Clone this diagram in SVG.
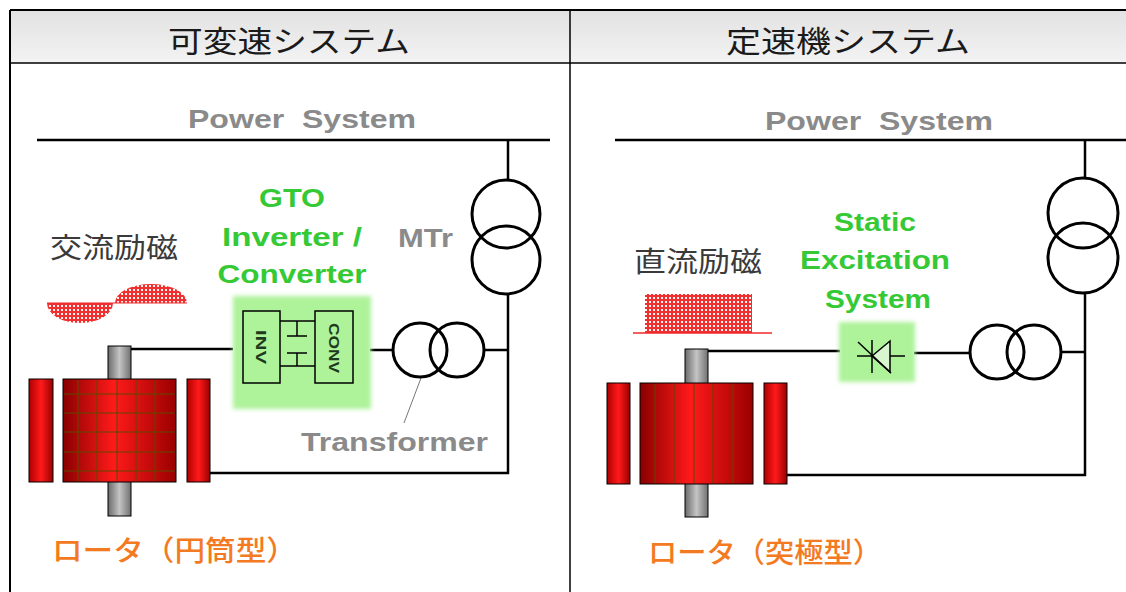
<svg xmlns="http://www.w3.org/2000/svg" width="1126" height="592" viewBox="0 0 1126 592">
  <defs>
    <linearGradient id="hdr" x1="0" y1="0" x2="0" y2="1">
      <stop offset="0" stop-color="#e2e2e2"/>
      <stop offset="1" stop-color="#f3f3f3"/>
    </linearGradient>
    <linearGradient id="body" x1="0" y1="0" x2="1" y2="0">
      <stop offset="0" stop-color="#8a0000"/>
      <stop offset="0.45" stop-color="#ff1a1a"/>
      <stop offset="1" stop-color="#9a0000"/>
    </linearGradient>
    <linearGradient id="bar" x1="0" y1="0" x2="1" y2="0">
      <stop offset="0" stop-color="#b00000"/>
      <stop offset="0.5" stop-color="#ff1a1a"/>
      <stop offset="1" stop-color="#9a0000"/>
    </linearGradient>
    <linearGradient id="shaft" x1="0" y1="0" x2="1" y2="0">
      <stop offset="0" stop-color="#6a6a6a"/>
      <stop offset="0.5" stop-color="#c4c4c4"/>
      <stop offset="1" stop-color="#707070"/>
    </linearGradient>
    <!-- red mesh with light holes -->
    <pattern id="hatch" width="4" height="4" patternUnits="userSpaceOnUse">
      <rect width="4" height="4" fill="#f03030"/>
      <rect x="1" y="1" width="2" height="2" fill="#fff4f0"/>
    </pattern>
    <filter id="soft" x="-10%" y="-10%" width="120%" height="120%">
      <feGaussianBlur stdDeviation="2"/>
    </filter>
  </defs>
  <style>
    .wire { fill: none; stroke: #000; stroke-width: 2.5; }
    .coil { fill: none; stroke: #000; stroke-width: 3; }
    .thin { fill: none; stroke: #000; stroke-width: 1.5; }
    .grid { stroke: #5a4a00; stroke-width: 1; }
    .edge { stroke: #000; stroke-width: 1; }
    .hdr { font-family: "Noto Sans CJK JP", sans-serif; font-size: 30px; fill: #1a1a1a; text-anchor: middle; }
    .gray { font-family: "Liberation Sans", Arial, sans-serif; font-weight: bold; fill: #8a8a8a; white-space: pre; }
    .green { font-family: "Liberation Sans", Arial, sans-serif; font-weight: bold; font-size: 26px; fill: #36c936; text-anchor: middle; }
    .cjk { font-family: "Noto Sans CJK JP", sans-serif; font-size: 28px; fill: #3a3a3a; }
    .orange { font-family: "Noto Sans CJK JP", sans-serif; font-size: 28px; font-weight: 500; fill: #f47a22; }
    .box { font-family: "Liberation Sans", Arial, sans-serif; font-weight: bold; font-size: 15px; fill: #1e3a1e; text-anchor: middle; }
  </style>

  <rect width="1126" height="592" fill="#ffffff"/>

  <!-- table frame -->
  <g id="table">
    <rect x="10" y="10" width="1116" height="53" fill="url(#hdr)"/>
    <line x1="10" y1="10" x2="1126" y2="10" stroke="#000" stroke-width="2"/>
    <line x1="10" y1="63" x2="1126" y2="63" stroke="#000" stroke-width="1.5"/>
    <line x1="10" y1="10" x2="10" y2="592" stroke="#000" stroke-width="2"/>
    <line x1="570" y1="10" x2="570" y2="592" stroke="#000" stroke-width="1.5"/>
    <text class="hdr" x="289" y="52" textLength="242" lengthAdjust="spacingAndGlyphs">可変速システム</text>
    <text class="hdr" x="848" y="52" textLength="244" lengthAdjust="spacingAndGlyphs">定速機システム</text>
  </g>

  <!-- connectors -->
  <g id="connectors">
    <!-- variable speed side -->
    <line class="wire" x1="37" y1="140" x2="550" y2="140"/>
    <line class="wire" x1="508" y1="140" x2="508" y2="181"/>
    <line class="wire" x1="508" y1="294" x2="508" y2="474"/>
    <line class="wire" x1="484" y1="350" x2="508" y2="350"/>
    <line class="wire" x1="370" y1="350" x2="393" y2="350"/>
    <polyline class="wire" points="125,349 233,349"/>
    <line class="wire" x1="210" y1="473" x2="509" y2="473"/>
    <line x1="421" y1="378" x2="404" y2="423" stroke="#777" stroke-width="1"/>
    <!-- constant speed side -->
    <line class="wire" x1="615" y1="140" x2="1126" y2="140"/>
    <line class="wire" x1="1085" y1="140" x2="1085" y2="178"/>
    <line class="wire" x1="1085" y1="293" x2="1085" y2="476"/>
    <line class="wire" x1="1062" y1="352" x2="1085" y2="352"/>
    <line class="wire" x1="914" y1="353" x2="969" y2="353"/>
    <line class="wire" x1="705" y1="351" x2="840" y2="351"/>
    <line class="wire" x1="787" y1="475" x2="1086" y2="475"/>
  </g>

  <!-- labels -->
  <g id="labels">
    <text class="gray" x="188" y="128" font-size="26" textLength="228" lengthAdjust="spacingAndGlyphs">Power  System</text>
    <text class="gray" x="765" y="130" font-size="26" textLength="228" lengthAdjust="spacingAndGlyphs">Power  System</text>
    <text class="cjk" x="50" y="258" textLength="128" lengthAdjust="spacingAndGlyphs">交流励磁</text>
    <text class="cjk" x="634" y="272" textLength="128" lengthAdjust="spacingAndGlyphs">直流励磁</text>
    <text class="gray" x="398" y="247" font-size="25" textLength="55" lengthAdjust="spacingAndGlyphs">MTr</text>
    <text class="gray" x="301" y="451" font-size="25" textLength="187" lengthAdjust="spacingAndGlyphs">Transformer</text>
    <text class="orange" x="52" y="561" textLength="245" lengthAdjust="spacingAndGlyphs">ロータ（円筒型）</text>
    <text class="orange" x="648" y="563" textLength="234" lengthAdjust="spacingAndGlyphs">ロータ（突極型）</text>
  </g>

  <!-- GTO converter -->
  <g id="gto-converter">
    <text class="green" x="292" y="207" textLength="66" lengthAdjust="spacingAndGlyphs">GTO</text>
    <text class="green" x="292" y="246" textLength="140" lengthAdjust="spacingAndGlyphs">Inverter /</text>
    <text class="green" x="292" y="283" textLength="149" lengthAdjust="spacingAndGlyphs">Converter</text>
    <rect x="233" y="296" width="138" height="113" fill="#aef29a" filter="url(#soft)"/>
    <rect class="thin" x="243" y="311" width="37" height="72"/>
    <rect class="thin" x="315" y="311" width="38" height="72"/>
    <polyline class="thin" points="280,321 315,321"/>
    <polyline class="thin" points="280,366 315,366"/>
    <line class="thin" x1="297" y1="321" x2="297" y2="336"/>
    <line class="thin" x1="287" y1="336" x2="307" y2="336"/>
    <line class="thin" x1="287" y1="353" x2="307" y2="353"/>
    <line class="thin" x1="297" y1="353" x2="297" y2="366"/>
    <text class="box" x="261.5" y="347" dominant-baseline="central" transform="rotate(90 261.5 347)" textLength="34" lengthAdjust="spacingAndGlyphs">INV</text>
    <text class="box" x="334" y="348" dominant-baseline="central" transform="rotate(90 334 348)" textLength="50" lengthAdjust="spacingAndGlyphs">CONV</text>
  </g>

  <!-- static excitation -->
  <g id="static-excitation">
    <text class="green" x="875" y="231" textLength="82" lengthAdjust="spacingAndGlyphs">Static</text>
    <text class="green" x="875" y="269" textLength="150" lengthAdjust="spacingAndGlyphs">Excitation</text>
    <text class="green" x="878" y="308" textLength="106" lengthAdjust="spacingAndGlyphs">System</text>
    <rect x="839" y="322" width="76" height="60" fill="#aef29a" filter="url(#soft)"/>
    <polygon points="872,356 890,341 890,372" fill="#d8f6cf" stroke="#000" stroke-width="1.5"/>
    <line class="thin" x1="872" y1="340" x2="872" y2="373"/>
    <line class="thin" x1="857" y1="356" x2="872" y2="356"/>
    <line class="thin" x1="890" y1="356" x2="905" y2="356"/>
    <line class="thin" x1="858" y1="342" x2="891" y2="373"/>
  </g>

  <!-- transformers -->
  <g id="mtr-left">
    <circle class="coil" cx="506" cy="214" r="34"/>
    <circle class="coil" cx="506" cy="260" r="34"/>
  </g>
  <g id="tr-left">
    <circle class="coil" cx="420" cy="350" r="27"/>
    <circle class="coil" cx="457" cy="350" r="27"/>
  </g>
  <g id="mtr-right">
    <circle class="coil" cx="1083" cy="213" r="35"/>
    <circle class="coil" cx="1083" cy="258" r="35"/>
  </g>
  <g id="tr-right">
    <circle class="coil" cx="997" cy="352" r="27"/>
    <circle class="coil" cx="1034" cy="352" r="27"/>
  </g>

  <!-- AC excitation waveform -->
  <g id="ac-wave">
    <path d="M47,303 A33,20 0 0 0 113,303 Z" fill="url(#hatch)"/>
    <path d="M115,303 A36,19 0 0 1 187,303 Z" fill="url(#hatch)"/>
    <line x1="47" y1="303" x2="187" y2="303" stroke="#f02828" stroke-width="1"/>
  </g>

  <!-- DC excitation block -->
  <g id="dc-wave">
    <rect x="645" y="294" width="107" height="39" fill="url(#hatch)"/>
    <line x1="633" y1="333" x2="772" y2="333" stroke="#f02828" stroke-width="1.5"/>
  </g>

  <!-- cylindrical rotor -->
  <g id="rotor-cylindrical">
    <rect class="edge" x="108" y="346" width="23" height="170" fill="url(#shaft)"/>
    <rect class="edge" x="29" y="379" width="24" height="103" fill="url(#bar)"/>
    <rect class="edge" x="187" y="379" width="23" height="103" fill="url(#bar)"/>
    <rect class="edge" x="63" y="379" width="113" height="103" fill="url(#body)"/>
    <g class="grid">
      <line x1="78" y1="380" x2="78" y2="481"/>
      <line x1="97" y1="380" x2="97" y2="481"/>
      <line x1="117" y1="380" x2="117" y2="481"/>
      <line x1="136" y1="380" x2="136" y2="481"/>
      <line x1="155" y1="380" x2="155" y2="481"/>
      <line x1="64" y1="394" x2="175" y2="394"/>
      <line x1="64" y1="413" x2="175" y2="413"/>
      <line x1="64" y1="432" x2="175" y2="432"/>
      <line x1="64" y1="452" x2="175" y2="452"/>
      <line x1="64" y1="471" x2="175" y2="471"/>
    </g>
  </g>

  <!-- salient pole rotor -->
  <g id="rotor-salient">
    <rect class="edge" x="685" y="349" width="23" height="168" fill="url(#shaft)"/>
    <rect class="edge" x="607" y="383" width="23" height="101" fill="url(#bar)"/>
    <rect class="edge" x="764" y="383" width="23" height="101" fill="url(#bar)"/>
    <rect class="edge" x="640" y="383" width="113" height="101" fill="url(#body)"/>
    <g class="grid">
      <line x1="655" y1="384" x2="655" y2="483"/>
      <line x1="674" y1="384" x2="674" y2="483"/>
      <line x1="694" y1="384" x2="694" y2="483"/>
      <line x1="713" y1="384" x2="713" y2="483"/>
      <line x1="733" y1="384" x2="733" y2="483"/>
    </g>
  </g>
</svg>
